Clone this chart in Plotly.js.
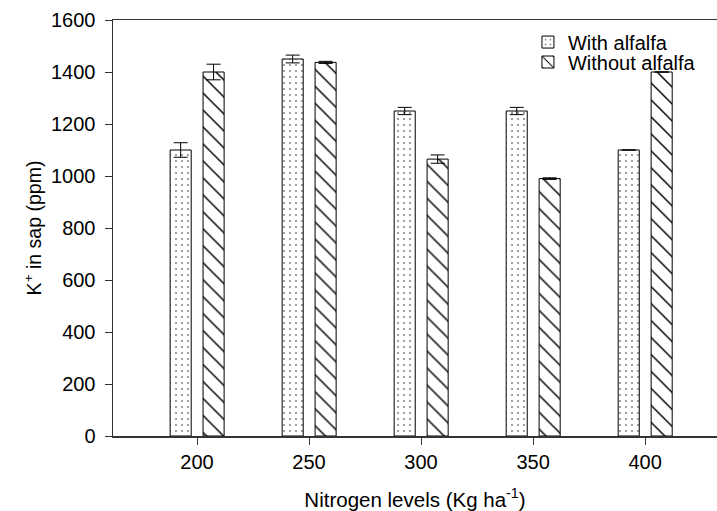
<!DOCTYPE html>
<html>
<head>
<meta charset="utf-8">
<script src="https://cdn.plot.ly/plotly-3.0.1.min.js"></script>
<style>html,body{margin:0;padding:0;background:#fff}#chart{width:717px;height:511px}</style>
</head>
<body>
<div id="chart"></div>
<script>
const nitrogenLevels = [200, 250, 300, 350, 400];
const withAlfalfa = [1100, 1450, 1250, 1250, 1100];
const withAlfalfaErr = [28, 15, 14, 14, 0];
const withoutAlfalfa = [1400, 1437, 1065, 990, 1400];
const withoutAlfalfaErr = [30, 4, 16, 3, 0];
const yTicks = [0, 200, 400, 600, 800, 1000, 1200, 1400, 1600];

const font = 'Liberation Sans, Arial, sans-serif';

const traces = [
  {
    type: 'bar', name: 'With alfalfa', x: nitrogenLevels, y: withAlfalfa,
    width: 9.4, offset: -12, legend: 'legend',
    marker: {color: 'white', line: {color: 'black', width: 1},
      pattern: {shape: '.', fgcolor: '#8a8a8a', bgcolor: 'white', size: 6, solidity: 0.1}},
    error_y: {type: 'data', array: withAlfalfaErr, visible: true, color: 'black', thickness: 1, width: 7}
  },
  {
    type: 'bar', name: 'Without alfalfa', x: nitrogenLevels, y: withoutAlfalfa,
    width: 9.4, offset: 2.7, legend: 'legend2',
    marker: {color: 'white', line: {color: 'black', width: 1},
      pattern: {shape: '\\', fgcolor: 'black', bgcolor: 'white', size: 12, solidity: 0.12}},
    error_y: {type: 'data', array: withoutAlfalfaErr, visible: true, color: 'black', thickness: 1, width: 7}
  }
];

const legendCommon = {xanchor: 'left', yanchor: 'middle', bgcolor: 'rgba(0,0,0,0)', font: {size: 20}};

const layout = {
  width: 717, height: 511,
  margin: {l: 113, r: 0, t: 20, b: 75},
  paper_bgcolor: 'white', plot_bgcolor: 'white',
  font: {family: font, color: 'black', size: 20},
  showlegend: true,
  legend: Object.assign({x: 0.687, y: 0.947}, legendCommon),
  legend2: Object.assign({x: 0.687, y: 0.899}, legendCommon),
  xaxis: {
    range: [162.5, 432.1], tickvals: nitrogenLevels, ticktext: nitrogenLevels.map(String),
    showline: true, linecolor: '#333', linewidth: 1.5, mirror: true,
    ticks: 'outside', ticklen: 7, tickcolor: '#333', showgrid: false, zeroline: false,
    tickfont: {size: 20},
    title: {text: 'Nitrogen levels (Kg ha<sup>-1</sup>)', font: {size: 20.5}, standoff: 22}
  },
  yaxis: {
    range: [0, 1600], tickvals: yTicks, ticktext: yTicks.map(String),
    showline: true, linecolor: '#333', linewidth: 1.5,
    ticks: 'outside', ticklen: 7, tickcolor: '#333', showgrid: false, zeroline: false,
    tickfont: {size: 20}, ticklabelstandoff: 5,
    title: {text: 'K<sup>+</sup> in sap (ppm)', font: {size: 19.5}, standoff: 4}
  }
};

Plotly.newPlot('chart', traces, layout, {displayModeBar: false, staticPlot: true});
</script>
</body>
</html>
